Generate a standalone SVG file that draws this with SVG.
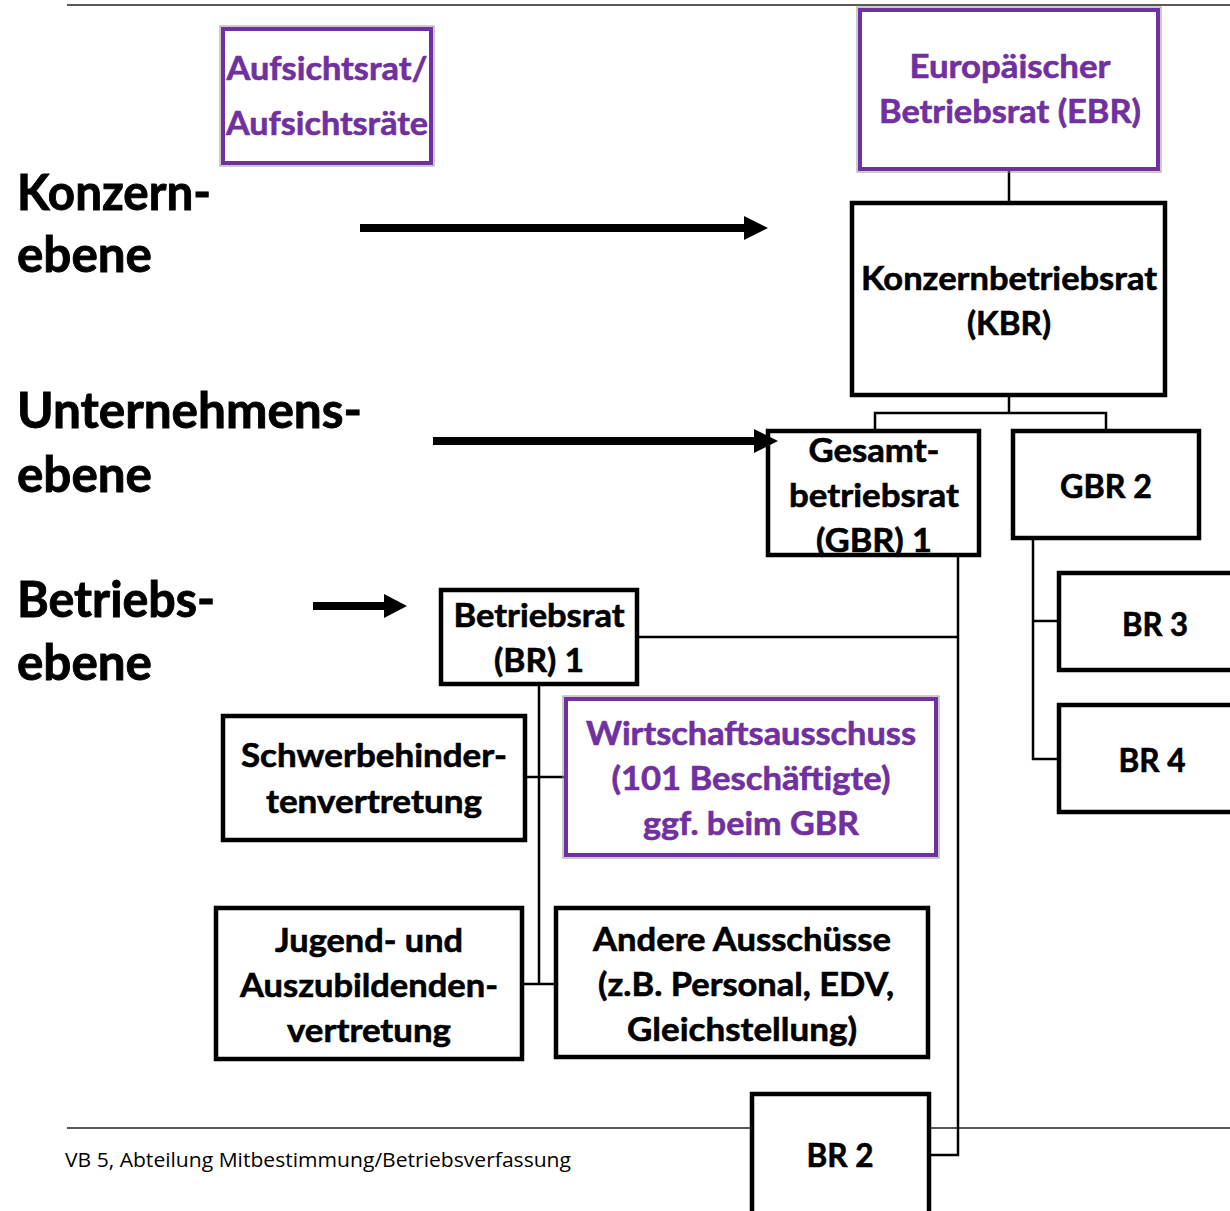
<svg xmlns="http://www.w3.org/2000/svg" width="1230" height="1211" viewBox="0 0 1230 1211">
<style>
.t{font-family:Lato,"Open Sans","Liberation Sans",sans-serif;font-weight:bold;font-size:33px;fill:#000;stroke:#000;stroke-width:0.6;text-anchor:middle}
.p{fill:#7030A0;stroke:#7030A0}
.lv{font-family:Lato,"Open Sans","Liberation Sans",sans-serif;font-weight:bold;font-size:50px;fill:#000;stroke:#000;stroke-width:0.9}
.box{fill:#fff;stroke:#000;stroke-width:4.5}
.pbox{fill:#fff;stroke:#7030A0;stroke-width:4}
.pout{fill:none;stroke:#999;stroke-width:1}
.ln{stroke:#000;stroke-width:2.5;fill:none}
.rule{stroke:#222;stroke-width:1.5}
.ft{font-family:"Open Sans","Liberation Sans",sans-serif;font-size:20px;fill:#000}
</style>
<g id="rules">
<line class="rule" x1="67" y1="5" x2="1230" y2="5"/>
<line class="rule" x1="67" y1="1128" x2="1230" y2="1128"/>
</g>
<g id="labels">
<text class="lv" x="17" y="210" textLength="194" lengthAdjust="spacingAndGlyphs">Konzern-</text>
<text class="lv" x="17" y="272" textLength="135" lengthAdjust="spacingAndGlyphs">ebene</text>
<text class="lv" x="17" y="428" textLength="345" lengthAdjust="spacingAndGlyphs">Unternehmens-</text>
<text class="lv" x="17" y="492" textLength="135" lengthAdjust="spacingAndGlyphs">ebene</text>
<text class="lv" x="17" y="617" textLength="198" lengthAdjust="spacingAndGlyphs">Betriebs-</text>
<text class="lv" x="17" y="680" textLength="135" lengthAdjust="spacingAndGlyphs">ebene</text>
<text class="ft" x="65" y="1167" textLength="506" lengthAdjust="spacingAndGlyphs">VB 5, Abteilung Mitbestimmung/Betriebsverfassung</text>
</g>
<g id="connectors">
<polyline class="ln" points="1009,171 1009,202"/>
<polyline class="ln" points="1009,396 1009,413"/>
<polyline class="ln" points="875,430 875,413 1106,413 1106,430"/>
<polyline class="ln" points="958,556 958,1155 929,1155"/>
<line class="ln" x1="637" y1="637" x2="958" y2="637"/>
<polyline class="ln" points="1033,539 1033,759 1058,759"/>
<line class="ln" x1="1033" y1="621" x2="1058" y2="621"/>
<line class="ln" x1="539" y1="684" x2="539" y2="984"/>
<line class="ln" x1="525" y1="777" x2="565" y2="777"/>
<line class="ln" x1="522" y1="984" x2="555" y2="984"/>
</g>
<g id="aufsichtsrat">
<rect class="pout" x="220" y="26" width="214" height="140"/>
<rect class="pbox" x="223" y="29" width="208" height="134"/>
<text class="t p" x="327" y="80" textLength="201" lengthAdjust="spacingAndGlyphs">Aufsichtsrat/</text>
<text class="t p" x="327" y="135" textLength="202" lengthAdjust="spacingAndGlyphs">Aufsichtsräte</text>
</g>
<g id="ebr">
<rect class="pout" x="857" y="7" width="304" height="165"/>
<rect class="pbox" x="860" y="10" width="298" height="159"/>
<text class="t p" x="1010" y="78" textLength="201" lengthAdjust="spacingAndGlyphs">Europäischer</text>
<text class="t p" x="1010" y="123" textLength="262" lengthAdjust="spacingAndGlyphs">Betriebsrat (EBR)</text>
</g>
<g id="kbr">
<rect class="box" x="852" y="203" width="313" height="192" stroke-width="5"/>
<text class="t" x="1009" y="290" textLength="296" lengthAdjust="spacingAndGlyphs">Konzernbetriebsrat</text>
<text class="t" x="1009" y="335" textLength="84" lengthAdjust="spacingAndGlyphs">(KBR)</text>
</g>
<g id="gbr1">
<rect class="box" x="768" y="431" width="211" height="124"/>
<text class="t" x="874" y="462" textLength="131" lengthAdjust="spacingAndGlyphs">Gesamt-</text>
<text class="t" x="874" y="507" textLength="170" lengthAdjust="spacingAndGlyphs">betriebsrat</text>
<text class="t" x="874" y="552" textLength="116" lengthAdjust="spacingAndGlyphs">(GBR) 1</text>
</g>
<g id="gbr2">
<rect class="box" x="1013" y="431" width="186" height="107"/>
<text class="t" x="1106" y="498" textLength="92" lengthAdjust="spacingAndGlyphs">GBR 2</text>
</g>
<g id="br3">
<rect class="box" x="1059" y="573" width="180" height="97"/>
<text class="t" x="1155" y="636" textLength="66" lengthAdjust="spacingAndGlyphs">BR 3</text>
</g>
<g id="br4">
<rect class="box" x="1059" y="705" width="180" height="107"/>
<text class="t" x="1152" y="772" textLength="67" lengthAdjust="spacingAndGlyphs">BR 4</text>
</g>
<g id="br1">
<rect class="box" x="441" y="590" width="196" height="94"/>
<text class="t" x="539" y="627" textLength="171" lengthAdjust="spacingAndGlyphs">Betriebsrat</text>
<text class="t" x="539" y="672" textLength="90" lengthAdjust="spacingAndGlyphs">(BR) 1</text>
</g>
<g id="schwerbehinderten">
<rect class="box" x="223" y="716" width="302" height="124"/>
<text class="t" x="374" y="767" textLength="266" lengthAdjust="spacingAndGlyphs">Schwerbehinder-</text>
<text class="t" x="374" y="813" textLength="216" lengthAdjust="spacingAndGlyphs">tenvertretung</text>
</g>
<g id="wirtschaftsausschuss">
<rect class="pout" x="563" y="696" width="376" height="162"/>
<rect class="pbox" x="566" y="699" width="370" height="156"/>
<text class="t p" x="751" y="745" textLength="330" lengthAdjust="spacingAndGlyphs">Wirtschaftsausschuss</text>
<text class="t p" x="751" y="790" textLength="279" lengthAdjust="spacingAndGlyphs">(101 Beschäftigte)</text>
<text class="t p" x="751" y="835" textLength="216" lengthAdjust="spacingAndGlyphs">ggf. beim GBR</text>
</g>
<g id="jav">
<rect class="box" x="216" y="908" width="306" height="151"/>
<text class="t" x="369" y="952" textLength="188" lengthAdjust="spacingAndGlyphs">Jugend- und</text>
<text class="t" x="369" y="997" textLength="258" lengthAdjust="spacingAndGlyphs">Auszubildenden-</text>
<text class="t" x="369" y="1042" textLength="164" lengthAdjust="spacingAndGlyphs">vertretung</text>
</g>
<g id="andere">
<rect class="box" x="556" y="908" width="372" height="149"/>
<text class="t" x="742" y="951" textLength="298" lengthAdjust="spacingAndGlyphs">Andere Ausschüsse</text>
<text class="t" x="746" y="996" textLength="296" lengthAdjust="spacingAndGlyphs">(z.B. Personal, EDV,</text>
<text class="t" x="742" y="1041" textLength="230" lengthAdjust="spacingAndGlyphs">Gleichstellung)</text>
</g>
<g id="br2">
<rect class="box" x="752" y="1094" width="177" height="125"/>
<text class="t" x="840" y="1167" textLength="67" lengthAdjust="spacingAndGlyphs">BR 2</text>
</g>
<g id="arrows">
<line x1="360" y1="228" x2="748" y2="228" stroke="#000" stroke-width="8"/>
<polygon points="744,216 768,228 744,240" fill="#000"/>
<line x1="433" y1="441" x2="758" y2="441" stroke="#000" stroke-width="8"/>
<polygon points="754,429 778,441 754,453" fill="#000"/>
<line x1="313" y1="606" x2="388" y2="606" stroke="#000" stroke-width="8"/>
<polygon points="384,594 407,606 384,618" fill="#000"/>
</g>
</svg>
